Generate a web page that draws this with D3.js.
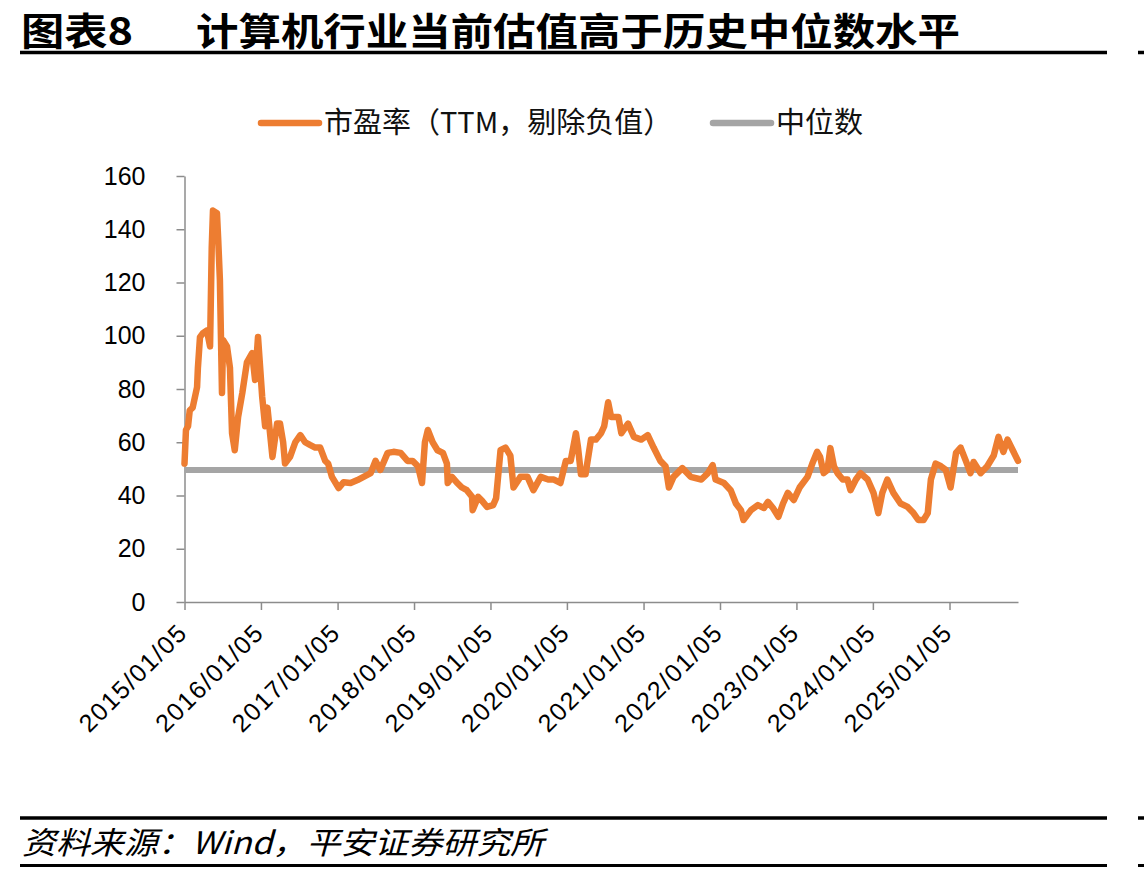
<!DOCTYPE html>
<html>
<head>
<meta charset="utf-8">
<script src="https://cdn.jsdelivr.net/npm/d3@7"></script>
<style>
    body { margin: 0; background: #fff; }
    svg { display: block; }
</style>
</head>
<body>
<div id="chart"></div>
<script>
// PE (TTM, negatives removed)
const dates = [
    "2015-01-05", "2015-01-12", "2015-01-22", "2015-01-30", "2015-02-13", "2015-03-06", "2015-03-10", "2015-03-20",
    "2015-04-03", "2015-04-22", "2015-05-07", "2015-05-15", "2015-05-21", "2015-06-09", "2015-06-15", "2015-06-23",
    "2015-07-03", "2015-07-08", "2015-07-27", "2015-08-10", "2015-08-20", "2015-09-02", "2015-09-18", "2015-10-08",
    "2015-10-30", "2015-11-24", "2015-12-08", "2015-12-22",
    "2016-01-11", "2016-01-25", "2016-02-05", "2016-02-29", "2016-03-22", "2016-04-05", "2016-04-20", "2016-04-29",
    "2016-05-23", "2016-06-17", "2016-07-11", "2016-08-03", "2016-08-26", "2016-09-20", "2016-10-14", "2016-11-07",
    "2016-11-21", "2016-12-09",
    "2017-01-10", "2017-02-03", "2017-03-08", "2017-04-10", "2017-05-09", "2017-06-12", "2017-07-05", "2017-07-28",
    "2017-09-01", "2017-09-29", "2017-11-02", "2017-12-05", "2017-12-29",
    "2018-01-24", "2018-02-12", "2018-02-26", "2018-03-12", "2018-04-04", "2018-04-27", "2018-05-23", "2018-06-11",
    "2018-06-15", "2018-07-05", "2018-07-30", "2018-08-22", "2018-09-14", "2018-10-09", "2018-10-12", "2018-11-07",
    "2018-11-26", "2018-12-20",
    "2019-01-18", "2019-02-01", "2019-02-22", "2019-03-18", "2019-04-10", "2019-04-25", "2019-05-28", "2019-07-01",
    "2019-07-29", "2019-09-02", "2019-10-08", "2019-11-04", "2019-12-05", "2019-12-31",
    "2020-01-23", "2020-02-17", "2020-02-27", "2020-03-12", "2020-04-03", "2020-04-29", "2020-05-22", "2020-06-16",
    "2020-07-01", "2020-07-20", "2020-08-03", "2020-09-07", "2020-09-21", "2020-10-23", "2020-11-20", "2020-12-25",
    "2021-01-25", "2021-02-22", "2021-03-26", "2021-04-20", "2021-05-06", "2021-05-28", "2021-07-09", "2021-08-18",
    "2021-10-08", "2021-11-08", "2021-12-01", "2021-12-15",
    "2022-01-24", "2022-02-25", "2022-03-22", "2022-04-15", "2022-04-27", "2022-06-02", "2022-07-05", "2022-08-03",
    "2022-08-22", "2022-09-15", "2022-10-11", "2022-11-02", "2022-11-25", "2022-12-23",
    "2023-01-20", "2023-02-27", "2023-03-22", "2023-04-14", "2023-04-28", "2023-05-15", "2023-06-02", "2023-06-16",
    "2023-07-03", "2023-07-20", "2023-08-14", "2023-09-06", "2023-09-20", "2023-10-16", "2023-11-07", "2023-12-11",
    "2024-01-08", "2024-01-31", "2024-02-19", "2024-03-14", "2024-04-12", "2024-05-16", "2024-06-19", "2024-07-17",
    "2024-08-09", "2024-09-03", "2024-09-23", "2024-10-08", "2024-10-31", "2024-11-25", "2024-12-18",
    "2025-01-10", "2025-02-05", "2025-02-27", "2025-03-24", "2025-04-15", "2025-04-30", "2025-06-03", "2025-07-04",
    "2025-08-04", "2025-08-27", "2025-09-19", "2025-10-09", "2025-11-03", "2025-11-28"
];

const peValues = [
    52, 64.6, 66, 72, 73, 80.7, 88, 99.5,
    101, 102, 96, 133, 147, 146, 136, 121,
    78.5, 98.4, 96, 88, 63.4, 57, 69.5, 78.5,
    90, 93.5, 83.4, 99.5,
    77, 66, 73, 54.5, 67, 67, 60, 52,
    54.5, 60, 62.7, 60, 59, 58, 58, 53,
    52, 47,
    42.8, 45, 44.7, 45.8, 47, 48.4, 53, 49.6,
    56, 56.4, 56, 53, 53,
    51, 44.7, 60, 64.6, 60, 57, 56, 52,
    44.7, 47, 44.7, 43, 42, 39.5, 34.5, 39.5,
    38, 35.7,
    36.4, 39, 57, 58, 55, 43, 47, 47,
    42, 47, 46, 46, 44.7, 53,
    53, 63.4, 58, 48, 48, 61, 61, 63.4,
    66, 75, 69.5, 69.5, 63.4, 67, 62, 61,
    62.7, 58, 53, 51, 43, 47, 50.3, 47,
    46, 48.4, 51.4, 46,
    44.7, 42, 37, 34.5, 30.8, 34.5, 36.4, 35.3,
    37.6, 35.3, 32, 37, 41, 38.3,
    43, 47, 52, 56.4, 54.5, 48.4, 49.6, 57.8,
    51, 48.4, 46, 46, 42, 46, 48.4, 46,
    41, 33.4, 41, 46, 41, 37, 35.7, 33.4,
    30.8, 30.8, 33.4, 46, 52, 51, 49.6,
    43, 56, 58, 53, 48.4, 52.6, 48.4, 51,
    55, 62, 56.4, 61, 57, 53
];

const median = [49.6];

const yTicks = [0, 20, 40, 60, 80, 100, 120, 140, 160];
const xTickDates = [
    "2015-01-05", "2016-01-05", "2017-01-05", "2018-01-05", "2019-01-05", "2020-01-05",
    "2021-01-05", "2022-01-05", "2023-01-05", "2024-01-05", "2025-01-05"
];

const seriesNames = ["市盈率（TTM，剔除负值）", "中位数"];
const titleLabel = "图表8";
const titleText = "计算机行业当前估值高于历史中位数水平";
const sourceText = "资料来源：Wind，平安证券研究所";

const ORANGE = "#ED7D31";
const GREY = "#A5A5A5";
const AXIS = "#8C8C8C";
const CJK = "'Noto Sans CJK SC', 'Noto Sans', sans-serif";
const NUM = "'Liberation Sans', Arial, sans-serif";

const parse = d3.timeParse("%Y-%m-%d");
const data = dates.map((d, i) => ({ date: parse(d), value: peValues[i] }));

const svg = d3.select("#chart")
    .append("svg")
    .attr("width", 1144)
    .attr("height", 874);

svg.append("rect").attr("width", 1144).attr("height", 874).attr("fill", "#fff");

// title
svg.append("text")
    .attr("x", 21).attr("y", 45)
    .attr("font-family", CJK).attr("font-weight", 700).attr("font-size", 38)
    .attr("textLength", 112).attr("lengthAdjust", "spacingAndGlyphs")
    .text(titleLabel);

svg.append("text")
    .attr("x", 196).attr("y", 45)
    .attr("font-family", CJK).attr("font-weight", 700).attr("font-size", 38)
    .attr("textLength", 764).attr("lengthAdjust", "spacingAndGlyphs")
    .text(titleText);

// header / footer rules
function rule(y, w) {
    svg.append("line").attr("x1", 20).attr("x2", 1107).attr("y1", y).attr("y2", y)
        .attr("stroke", "#000").attr("stroke-width", w);
    svg.append("line").attr("x1", 1138).attr("x2", 1144).attr("y1", y).attr("y2", y)
        .attr("stroke", "#000").attr("stroke-width", w);
}
rule(52.5, 3.5);
rule(818, 3.5);
rule(865.5, 3);

svg.append("text")
    .attr("x", 22).attr("y", 854)
    .attr("font-family", CJK).attr("font-style", "italic").attr("font-size", 31)
    .attr("textLength", 522).attr("lengthAdjust", "spacingAndGlyphs")
    .text(sourceText);

// legend
const legend = svg.append("g");
const legendItems = [
    { x: 261, color: ORANGE, name: seriesNames[0] },
    { x: 713, color: GREY, name: seriesNames[1] }
];
legendItems.forEach(item => {
    legend.append("line")
        .attr("x1", item.x).attr("x2", item.x + 58)
        .attr("y1", 123).attr("y2", 123)
        .attr("stroke", item.color).attr("stroke-width", 6.5)
        .attr("stroke-linecap", "round");
    legend.append("text")
        .attr("x", item.x + 63).attr("y", 133)
        .attr("font-family", CJK).attr("font-size", 29).attr("fill", "#111")
        .text(item.name);
});

// scales
const x = d3.scaleTime()
    .domain([data[0].date, data[data.length - 1].date])
    .range([184.5, 1018]);

const y = d3.scaleLinear()
    .domain([0, 160])
    .range([602, 176]);

// axes
const yAxis = svg.append("g")
    .attr("transform", "translate(184.5,0)")
    .call(d3.axisLeft(y).tickValues(yTicks).tickSize(8).tickSizeOuter(0));

yAxis.select(".domain").attr("stroke", AXIS).attr("stroke-width", 1.5);
yAxis.selectAll(".tick line").attr("stroke", AXIS).attr("stroke-width", 1.5);
yAxis.selectAll(".tick text")
    .attr("x", -39)
    .attr("font-family", NUM).attr("font-size", 25).attr("fill", "#000");

const xAxis = svg.append("g")
    .attr("transform", "translate(0,602)")
    .call(d3.axisBottom(x)
        .tickValues(xTickDates.map(parse))
        .tickFormat(d3.timeFormat("%Y/%m/%d"))
        .tickSize(8).tickSizeOuter(0));

xAxis.select(".domain").attr("stroke", AXIS).attr("stroke-width", 1.5);
xAxis.selectAll(".tick line").attr("stroke", AXIS).attr("stroke-width", 1.5);
xAxis.selectAll(".tick text")
    .attr("x", 0).attr("y", 0).attr("dy", 0)
    .attr("transform", "translate(4,32) rotate(-45)")
    .style("text-anchor", "end")
    .attr("letter-spacing", 1.6)
    .attr("font-family", NUM).attr("font-size", 25).attr("fill", "#000");

// median line
svg.append("line")
    .attr("x1", x.range()[0]).attr("x2", x.range()[1])
    .attr("y1", y(median[0])).attr("y2", y(median[0]))
    .attr("stroke", GREY).attr("stroke-width", 6);

// PE line
const line = d3.line()
    .x(d => x(d.date))
    .y(d => y(d.value));

svg.append("path")
    .datum(data)
    .attr("d", line)
    .attr("fill", "none")
    .attr("stroke", ORANGE)
    .attr("stroke-width", 6.5)
    .attr("stroke-linejoin", "round")
    .attr("stroke-linecap", "round");
</script>
</body>
</html>
